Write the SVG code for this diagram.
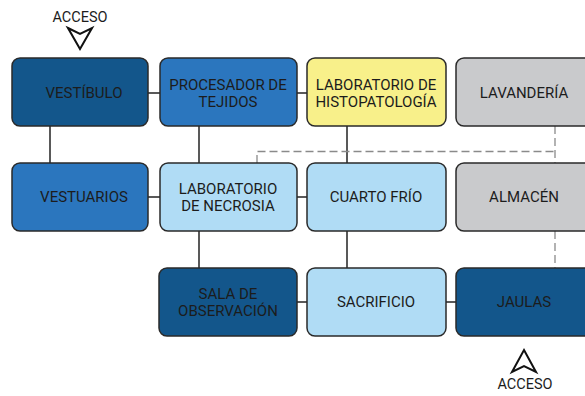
<svg xmlns="http://www.w3.org/2000/svg" width="585" height="396" viewBox="0 0 585 396">
<style>
.box{stroke:#2a2a2a;stroke-width:1.5}
.dark{fill:#13568b}
.mid{fill:#2b76be}
.light{fill:#b0dcf5}
.yellow{fill:#f8f08a}
.gray{fill:#c9cacc}
.lbl{font-family:Roboto,"Open Sans","Liberation Sans",sans-serif;font-size:15px;fill:#1c1c1c;text-anchor:middle}
.acc{font-family:Roboto,"Open Sans","Liberation Sans",sans-serif;font-size:14.5px;fill:#1c1c1c;text-anchor:middle}
.ln{stroke:#222;stroke-width:1.5;fill:none}
.dash{stroke:#8a8a8a;stroke-width:1.3;fill:none;stroke-dasharray:8 4}
.arr{fill:#fff;stroke:#111;stroke-width:2;stroke-linejoin:miter}
</style>
<rect width="585" height="396" fill="#fff"/>
<g id="connectors">
<line class="ln" x1="148" y1="93" x2="160" y2="93"/>
<line class="ln" x1="297" y1="93" x2="307" y2="93"/>
<line class="ln" x1="50" y1="126" x2="50" y2="163"/>
<line class="ln" x1="199" y1="126" x2="199" y2="163"/>
<line class="ln" x1="347" y1="126" x2="347" y2="163"/>
<line class="ln" x1="148" y1="197" x2="160" y2="197"/>
<line class="ln" x1="297" y1="197" x2="307" y2="197"/>
<line class="ln" x1="199" y1="231" x2="199" y2="268"/>
<line class="ln" x1="347" y1="231" x2="347" y2="268"/>
<line class="ln" x1="297" y1="302" x2="307" y2="302"/>
<line class="ln" x1="446" y1="302" x2="456" y2="302"/>
<polyline class="dash" points="257,163 257,151.5 555,151.5"/>
<line class="dash" x1="555" y1="126" x2="555" y2="163"/>
<line class="dash" x1="555" y1="231" x2="555" y2="268"/>
</g>
<g id="acceso-top">
<text class="acc" x="80" y="22">ACCESO</text>
<polygon class="arr" points="68,28 80,34 92,28 80,49"/>
</g>
<g id="acceso-bottom">
<polygon class="arr" points="524,350 536,372 524,366 512,372"/>
<text class="acc" x="525" y="389">ACCESO</text>
</g>
<g id="vestibulo">
<rect class="box dark" x="12" y="58" width="136" height="68" rx="8"/>
<text class="lbl" x="84" y="98">VESTÍBULO</text>
</g>
<g id="procesador">
<rect class="box mid" x="160" y="58" width="137" height="68" rx="8"/>
<text class="lbl" x="228" y="89.5">PROCESADOR DE</text>
<text class="lbl" x="228" y="107.1">TEJIDOS</text>
</g>
<g id="histopatologia">
<rect class="box yellow" x="307" y="58" width="139" height="68" rx="8"/>
<text class="lbl" x="376" y="89.5">LABORATORIO DE</text>
<text class="lbl" x="376" y="107.1">HISTOPATOLOGÍA</text>
</g>
<g id="lavanderia">
<rect class="box gray" x="456" y="58" width="138" height="68" rx="8"/>
<text class="lbl" x="524" y="98">LAVANDERÍA</text>
</g>
<g id="vestuarios">
<rect class="box mid" x="12" y="163" width="136" height="68" rx="8"/>
<text class="lbl" x="84" y="202">VESTUARIOS</text>
</g>
<g id="necrosia">
<rect class="box light" x="160" y="163" width="137" height="68" rx="8"/>
<text class="lbl" x="228" y="193.5">LABORATORIO</text>
<text class="lbl" x="228" y="211.1">DE NECROSIA</text>
</g>
<g id="cuarto-frio">
<rect class="box light" x="307" y="163" width="139" height="68" rx="8"/>
<text class="lbl" x="376" y="202">CUARTO FRÍO</text>
</g>
<g id="almacen">
<rect class="box gray" x="456" y="163" width="138" height="68" rx="8"/>
<text class="lbl" x="524" y="202">ALMACÉN</text>
</g>
<g id="sala-observacion">
<rect class="box dark" x="159" y="268" width="138" height="68" rx="8"/>
<text class="lbl" x="228" y="298.5">SALA DE</text>
<text class="lbl" x="228" y="316.1">OBSERVACIÓN</text>
</g>
<g id="sacrificio">
<rect class="box light" x="307" y="268" width="139" height="68" rx="8"/>
<text class="lbl" x="376" y="307">SACRIFICIO</text>
</g>
<g id="jaulas">
<rect class="box dark" x="456" y="268" width="138" height="68" rx="8"/>
<text class="lbl" x="524" y="307">JAULAS</text>
</g>
</svg>
